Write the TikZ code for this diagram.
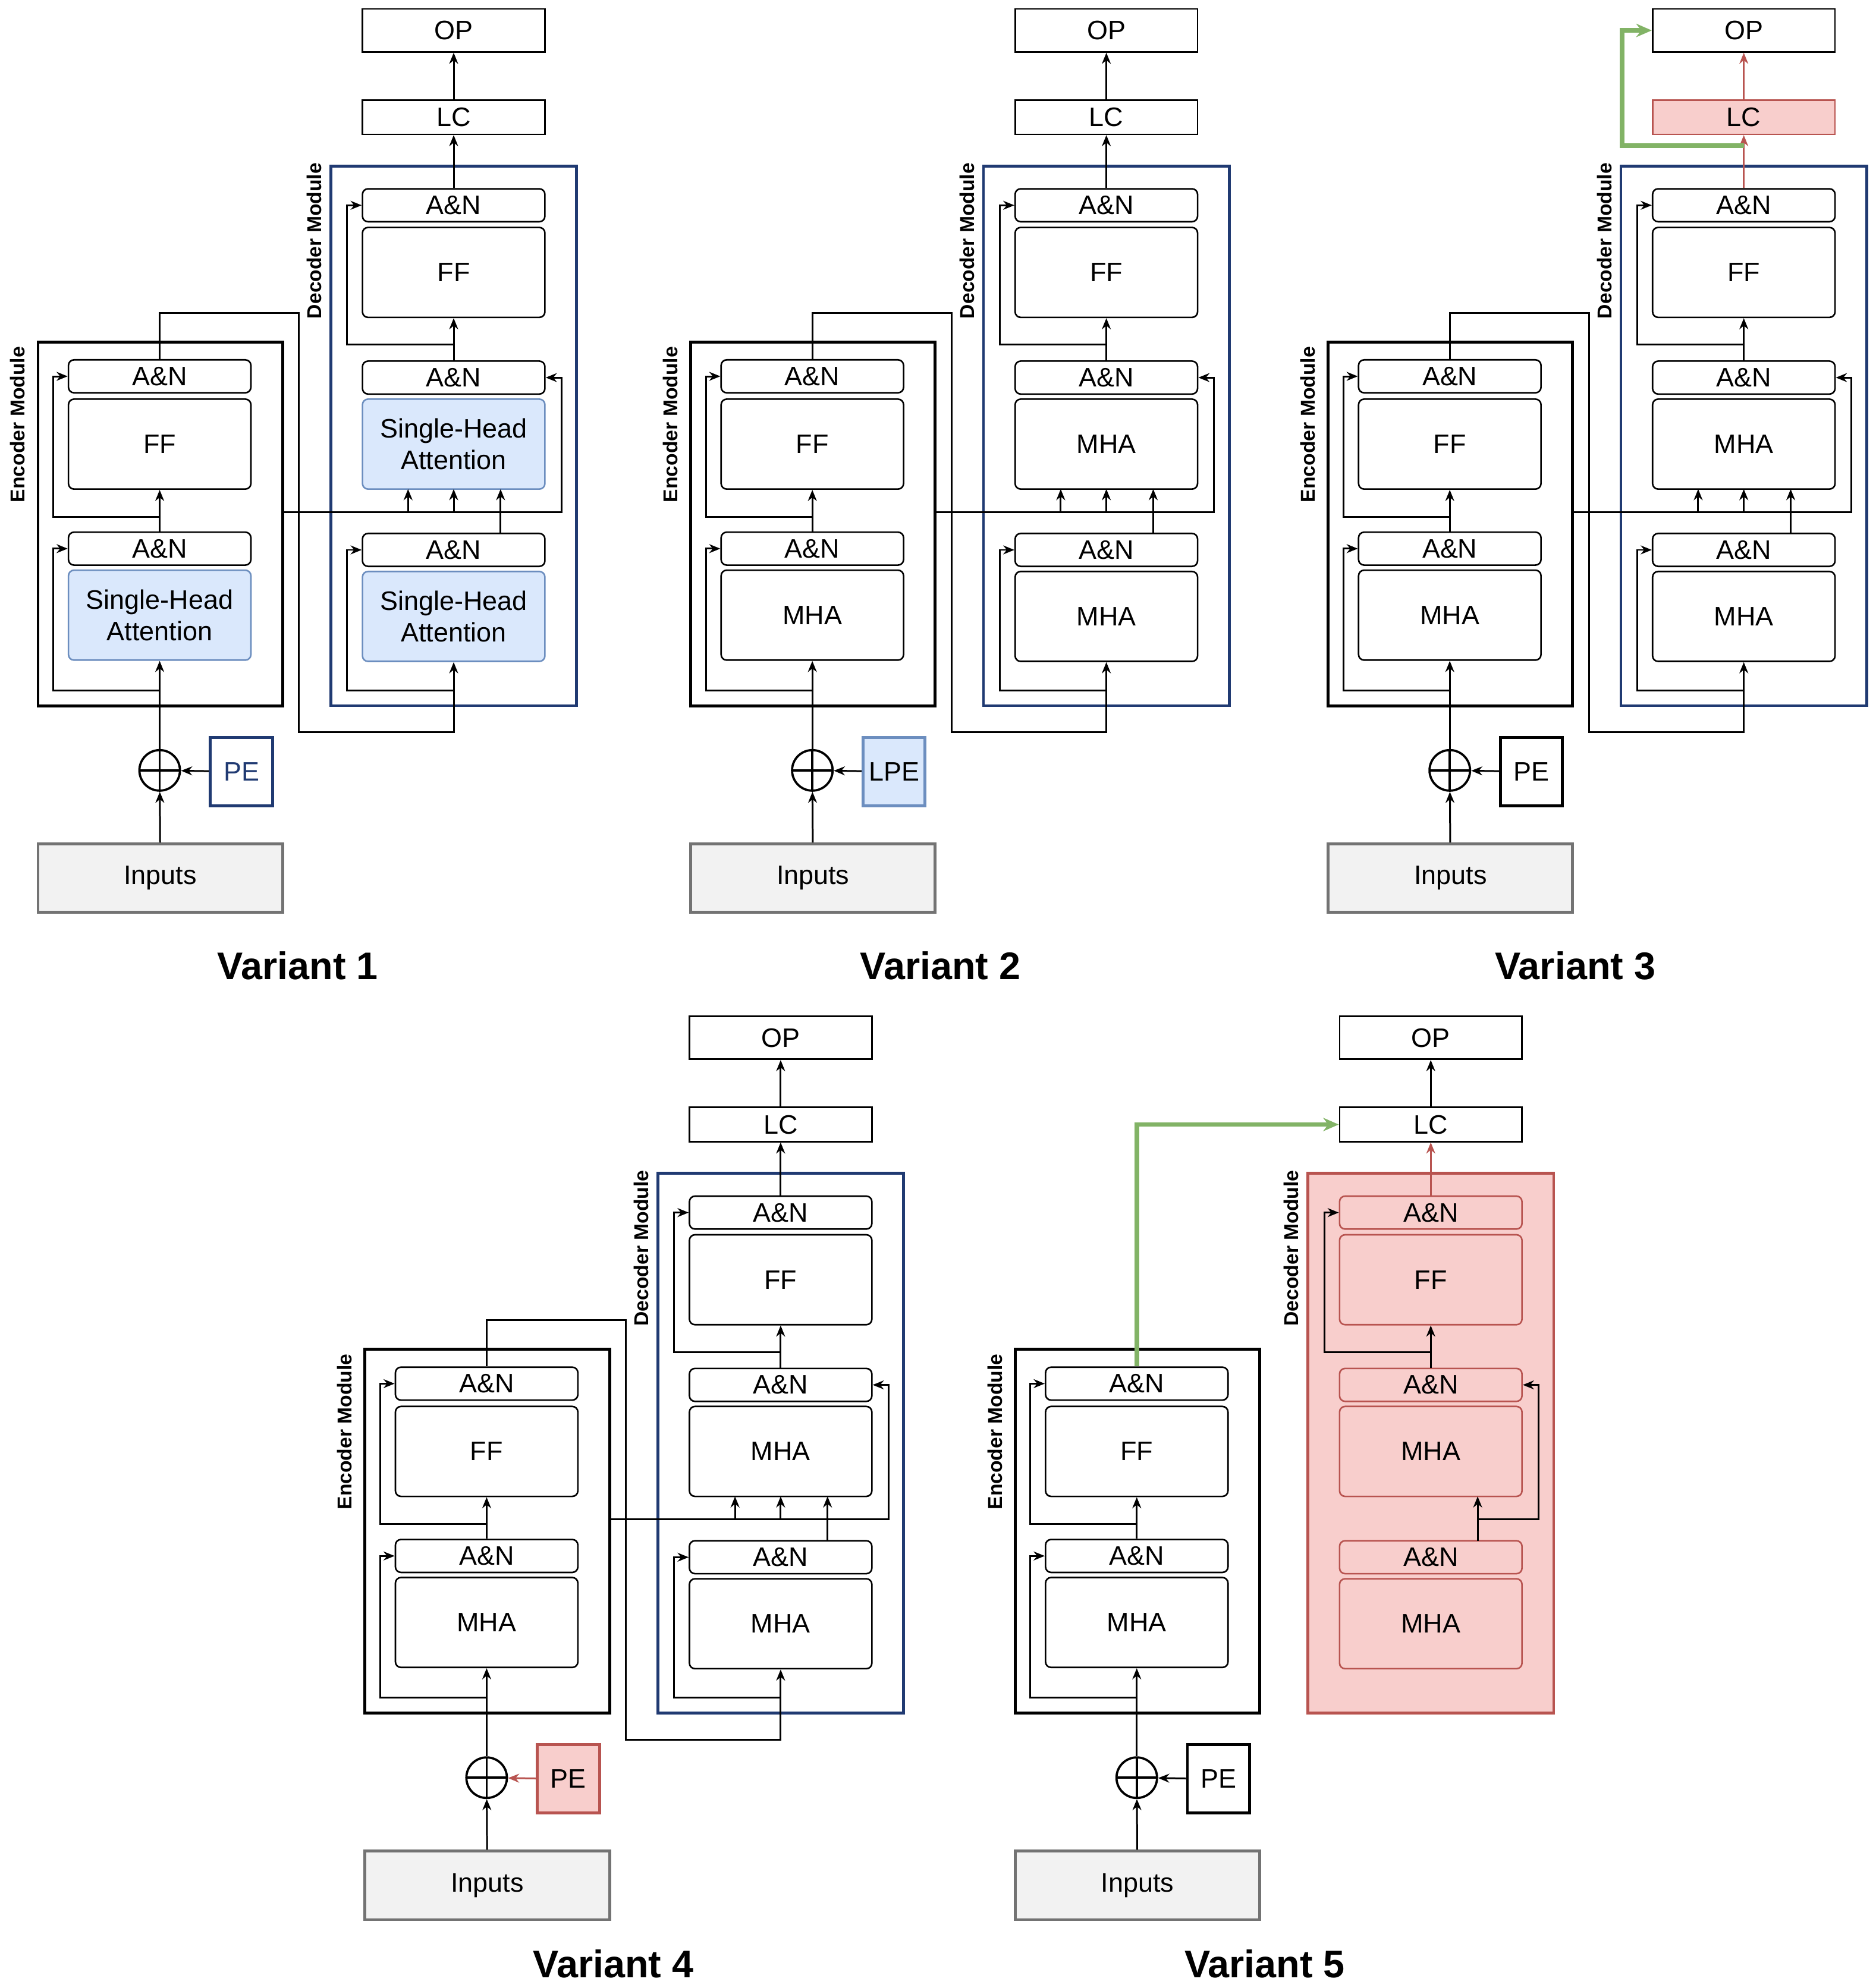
\documentclass[tikz,border=0pt]{standalone}
\usepackage{fontspec}
\setmainfont{Liberation Sans}
\usetikzlibrary{arrows.meta, positioning}
\definecolor{navy}{HTML}{203A72}
\definecolor{lblue}{HTML}{DAE8FC}
\definecolor{mblue}{HTML}{6C8EBF}
\definecolor{lred}{HTML}{F8CECC}
\definecolor{mred}{HTML}{B85450}
\definecolor{mgreen}{HTML}{82B366}
\definecolor{lgray}{HTML}{F2F2F2}
\tikzset{
  arr/.style={-{Stealth[length=5pt,width=4pt]}, line width=0.8pt},
  blk/.style={draw, rounded corners=2.5pt, line width=0.7pt, minimum width=2.88cm, minimum height=0.52cm, inner sep=0pt, font=\large, align=center},
  tall/.style={minimum height=1.42cm},
  shblue/.style={fill=lblue, draw=mblue},
  redblk/.style={fill=lred, draw=mred},
  modbox/.style={draw, line width=1.3pt, inner sep=0pt},
  modlabel/.style={rotate=90, font=\bfseries\small},
  inbox/.style={draw=black!55, fill=lgray, line width=1.3pt, minimum width=3.86cm, minimum height=1.08cm, font=\large},
  pebox/.style={draw, line width=1.3pt, minimum width=0.98cm, minimum height=1.08cm, inner sep=0pt, font=\large},
  plus/.style={draw, circle, line width=1pt, minimum size=0.64cm, inner sep=0pt,
    path picture={\draw[line width=1pt] (path picture bounding box.north) -- (path picture bounding box.south)
      (path picture bounding box.west) -- (path picture bounding box.east);}},
  caption/.style={font=\bfseries\LARGE}
}
% encoder stack: prefix, dx, dy, attention text, attention style, PE style, PE text, PE arrow colour
\newcommand{\encoder}[8]{%
\begin{scope}[shift={(#2,#3)}]
  \node[modbox, minimum width=3.86cm, minimum height=5.74cm] (#1enc) at (126.5,413.5) {};
  \node[blk] (#1ean2) at (126,297) {A\&N};
  \node[blk,tall] (#1eff) at (126,350.5) {FF};
  \node[blk] (#1ean1) at (126,433) {A\&N};
  \node[blk,tall,#5] (#1eatt) at (126,485.5) {#4};
  \node[modlabel] at (14,335) {Encoder Module};
  \node[inbox] (#1in) at (126.5,693) {Inputs};
  \node[plus] (#1plus) at (126,608) {};
  \node[pebox,#6] (#1pe) at (190.5,609) {#7};
  \draw[arr] (#1in) -- (#1plus);
  \draw[arr] (#1plus) -- (#1eatt);
  \draw[arr,#8] (#1pe) -- (#1plus);
  \draw[arr] (126,545) -| (42,433) -- (#1ean1);
  \draw[arr] (#1ean1) -- (#1eff);
  \draw[arr] (126,408) -| (42,297) -- (#1ean2);
\end{scope}}
% decoder stack: prefix, dx, dy, attention text, attention style, box style, block style, LC style
\newcommand{\decoder}[8]{%
\begin{scope}[shift={(#2,#3)}]
  \node[modbox, minimum width=3.88cm, minimum height=8.52cm, #6] (#1dec) at (358,344) {};
  \node[blk,#7] (#1dan3) at (358,162) {A\&N};
  \node[blk,tall,#7] (#1dff) at (358,215) {FF};
  \node[blk,#7] (#1dan2) at (358,298) {A\&N};
  \node[blk,tall,#5] (#1datt2) at (358,350.5) {#4};
  \node[blk,#7] (#1dan1) at (358,434) {A\&N};
  \node[blk,tall,#5] (#1datt1) at (358,486.5) {#4};
  \node[modlabel] at (248,190) {Decoder Module};
  \node[blk, rounded corners=0pt, minimum height=0.54cm, #8] (#1lc) at (358,92.5) {LC};
  \node[blk, rounded corners=0pt, minimum height=0.68cm] (#1op) at (358,24) {OP};
  \draw[arr] (#1dan2) -- (#1dff);
  \draw[arr] (358,272) -| (274,162) -- (#1dan3);
  \draw[arr] (395,421) -- (395,386);
  \draw[arr] (395,404) -| (443,298) -- (#1dan2);
\end{scope}}
% cross links encoder -> decoder
\newcommand{\crosslinks}[3]{%
\begin{scope}[shift={(#2,#3)}]
  \draw[line width=0.8pt] (223,404) -- (395,404);
  \draw[arr] (322,404) -- (322,386);
  \draw[arr] (358,404) -- (358,386);
  \draw[arr] (#1ean2.north) |- (236,247) -- (236,578) -| (#1datt1.south);
  \draw[arr] (358,545) -| (274,434) -- (#1dan1);
\end{scope}}
\begin{document}
\begin{tikzpicture}[x=0.02cm, y=-0.02cm]
  \useasboundingbox (0,0) rectangle (1480,1569);
  % Variant 1
  \encoder{a}{0}{0}{Single-Head\\Attention}{shblue}{draw=navy, text=navy}{PE}{black}
  \decoder{a}{0}{0}{Single-Head\\Attention}{shblue}{draw=navy}{}{}
  \crosslinks{a}{0}{0}
  \draw[arr] (adan3) -- (alc);
  \draw[arr] (alc) -- (aop);
  \node[caption] at (235,762) {Variant 1};
  % Variant 2
  \encoder{b}{515}{0}{MHA}{}{shblue}{LPE}{black}
  \decoder{b}{515}{0}{MHA}{}{draw=navy}{}{}
  \crosslinks{b}{515}{0}
  \draw[arr] (bdan3) -- (blc);
  \draw[arr] (blc) -- (bop);
  \node[caption] at (742,762) {Variant 2};
  % Variant 3
  \encoder{c}{1018}{0}{MHA}{}{}{PE}{black}
  \decoder{c}{1018}{0}{MHA}{}{draw=navy}{}{redblk}
  \crosslinks{c}{1018}{0}
  \draw[arr, mred] (cdan3) -- (clc);
  \draw[arr, mred] (clc) -- (cop);
  \draw[-{Stealth[length=7pt,width=6pt]}, mgreen, line width=2pt] (1376,115) -| (1280,24) -- (cop);
  \node[caption] at (1243,762) {Variant 3};
  % Variant 4
  \encoder{d}{258}{795}{MHA}{}{redblk}{PE}{mred}
  \decoder{d}{258}{795}{MHA}{}{draw=navy}{}{}
  \crosslinks{d}{258}{795}
  \draw[arr] (ddan3) -- (dlc);
  \draw[arr] (dlc) -- (dop);
  \node[caption] at (484,1550) {Variant 4};
  % Variant 5
  \encoder{e}{771}{795}{MHA}{}{}{PE}{black}
  \decoder{e}{771}{795}{MHA}{redblk}{draw=mred, fill=lred}{redblk}{}
  \draw[arr, mred] (edan3) -- (elc);
  \draw[arr] (elc) -- (eop);
  \draw[-{Stealth[length=7pt,width=6pt]}, mgreen, line width=2pt] (eean2.north) |- (elc);
  \node[caption] at (998,1550) {Variant 5};
\end{tikzpicture}
\end{document}
